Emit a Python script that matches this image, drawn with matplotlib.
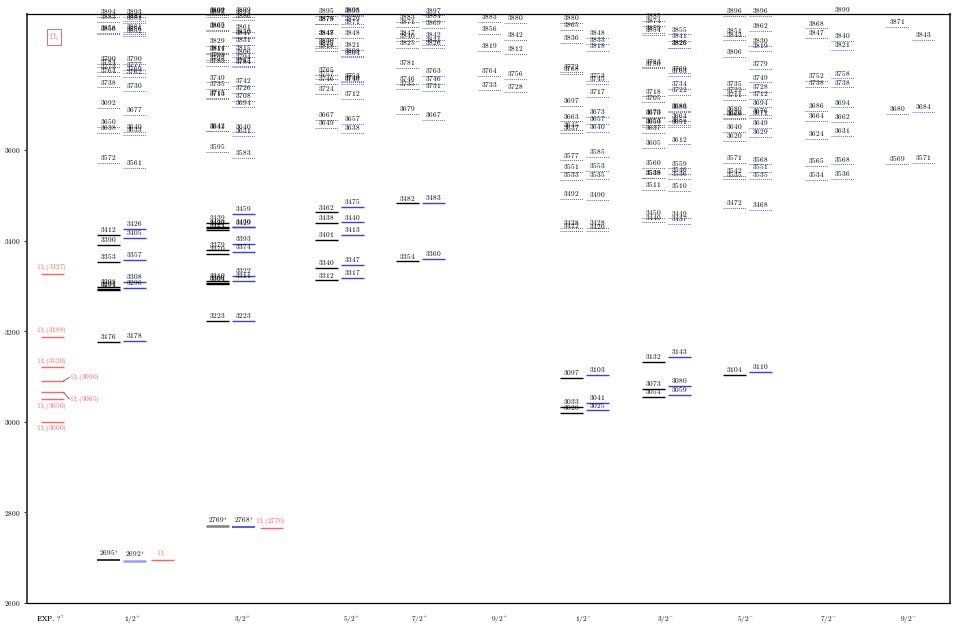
import matplotlib
matplotlib.use('Agg')
import matplotlib.pyplot as plt

plt.rcParams['mathtext.fontset'] = 'cm'
plt.rcParams['font.family'] = 'serif'
plt.rcParams['font.serif'] = ['DejaVu Serif']

# ---------------- data ----------------
columns = ['1/2+', '3/2+', '5/2+', '7/2+', '9/2+', '1/2-', '3/2-', '5/2-', '7/2-', '9/2-']

A_12p = [3894, 3883, 3858, 3856, 3790, 3784, 3773, 3764, 3738, 3692, 3650, 3638, 3572,
         3412, 3390, 3353, 3298, 3294, 3291, 3176]
B_12p = [3893, 3884, 3881, 3861, 3856, 3852, 3790, 3777, 3769, 3762, 3730, 3677, 3640, 3633,
         3561, 3426, 3405, 3357, 3308, 3296, 3178]
A_32p = [3899, 3897, 3893, 3865, 3862, 3829, 3814, 3811, 3798, 3793, 3785, 3749, 3735, 3715,
         3713, 3642, 3641, 3595, 3439, 3429, 3427, 3424, 3379, 3370, 3310, 3306, 3304, 3223]
B_32p = [3899, 3894, 3886, 3861, 3850, 3847, 3831, 3815, 3806, 3794, 3785, 3784, 3742, 3726,
         3708, 3694, 3640, 3631, 3583, 3459, 3430, 3429, 3393, 3374, 3322, 3311, 3223]
A_52p = [3895, 3879, 3878, 3848, 3847, 3830, 3825, 3818, 3765, 3757, 3746, 3724, 3667, 3649,
         3462, 3438, 3401, 3340, 3312]
B_52p = [3898, 3895, 3879, 3871, 3848, 3821, 3808, 3804, 3753, 3749, 3746, 3712, 3657, 3638,
         3475, 3440, 3413, 3347, 3317]
A_72p = [3883, 3871, 3847, 3840, 3825, 3781, 3746, 3735, 3679, 3482, 3354]
B_72p = [3897, 3884, 3869, 3842, 3831, 3826, 3763, 3746, 3731, 3667, 3483, 3360]
A_92p = [3883, 3856, 3819, 3764, 3733]
B_92p = [3880, 3842, 3812, 3756, 3728]
A_12m = [3880, 3865, 3836, 3772, 3768, 3697, 3663, 3645, 3637, 3577, 3551, 3533, 3492, 3428,
         3422, 3097, 3033, 3020]
B_12m = [3848, 3833, 3818, 3753, 3745, 3717, 3673, 3657, 3640, 3585, 3553, 3535, 3490, 3428,
         3420, 3103, 3041, 3025]
A_32m = [3885, 3874, 3859, 3854, 3783, 3780, 3718, 3705, 3673, 3670, 3654, 3650, 3637, 3605,
         3560, 3539, 3538, 3511, 3450, 3440, 3132, 3073, 3054]
B_32m = [3855, 3841, 3826, 3825, 3769, 3763, 3734, 3722, 3686, 3683, 3664, 3655, 3651, 3612,
         3559, 3546, 3536, 3510, 3449, 3437, 3143, 3080, 3059]
A_52m = [3896, 3851, 3843, 3806, 3735, 3722, 3711, 3680, 3670, 3668, 3640, 3620, 3571, 3542,
         3535, 3472, 3104]
B_52m = [3896, 3862, 3830, 3819, 3779, 3749, 3728, 3712, 3694, 3676, 3671, 3649, 3629, 3568,
         3551, 3535, 3468, 3110]
A_72m = [3868, 3847, 3752, 3738, 3686, 3664, 3624, 3565, 3534]
B_72m = [3899, 3840, 3821, 3758, 3738, 3694, 3662, 3631, 3568, 3536]
A_92m = [3871, 3680, 3569]
B_92m = [3843, 3684, 3571]

model_A = [A_12p, A_32p, A_52p, A_72p, A_92p, A_12m, A_32m, A_52m, A_72m, A_92m]
model_B = [B_12p, B_32p, B_52p, B_72p, B_92p, B_12m, B_32m, B_52m, B_72m, B_92m]

# daggered ground states (1/2+, 3/2+)
A_ground = [2695, 2769]
B_ground = [2692, 2768]

# experiment
exp_ground_labels = [r'$\Omega_c$', r'$\Omega_c(2770)$']
exp_ground_values = [2695, 2766]
exp_values = [3000, 3050, 3065, 3090, 3120, 3188, 3327]
exp_labels = [r'$\Omega_c(%d)$' % v for v in exp_values]

tick_labels = [r'EXP. $?^{?}$', r'$1/2^{+}$', r'$3/2^{+}$', r'$5/2^{+}$', r'$7/2^{+}$',
               r'$9/2^{+}$', r'$1/2^{-}$', r'$3/2^{-}$', r'$5/2^{-}$', r'$7/2^{-}$', r'$9/2^{-}$']

# ---------------- layout ----------------
col_start = [97, 206, 315, 396, 478, 560, 642, 723, 805, 886]
tick_x = [50, 133, 243, 352, 420, 500, 583, 665, 745, 828, 908]
W = 22.5
OFF_B = 26
OFF_R = 54
cut_pos, cut_neg = 3520, 3300

c_black_dot = '#6a6a6a'
c_blue = '#3b3bf0'
c_blue_dot = '#6464ff'
c_red = '#ff6262'
FS = 5.3

fig = plt.figure(figsize=(9.58, 6.29), dpi=100)
ax = fig.add_axes([27/958, 26/629, 923/958, 589/629])
ax.set_xlim(27, 950)
ax.set_ylim(2600, 3900)


def level(x0, v, color, solid, text=None, tcolor='black', lw=None, below=False):
    if solid:
        ax.hlines(v, x0, x0 + W, colors=color, linewidth=lw or 1.0)
    else:
        ax.hlines(v, x0, x0 + W, colors=color, linewidth=lw or 0.7, linestyles=(0, (1, 1)))
    if text is None:
        text = r'$%d$' % v
    ax.annotate(text, xy=(x0 + W / 2, v), xytext=(0, -1.2 if below else 0.6),
                textcoords='offset points', ha='center', va='top' if below else 'bottom',
                fontsize=FS, color=tcolor, annotation_clip=False)


for i, (name, As, Bs) in enumerate(zip(columns, model_A, model_B)):
    x0 = col_start[i]
    cut = cut_pos if name.endswith('+') else cut_neg
    for v in As:
        solid = v < cut
        level(x0, v, 'black' if solid else c_black_dot, solid)
    for v in Bs:
        solid = v < cut
        level(x0 + OFF_B, v, c_blue if solid else c_blue_dot, solid)

ground_colors_A = ['#111111', '#808080']
ground_colors_B = ['#9a9aff', '#3b3bf0']
for i in range(2):
    x0 = col_start[i]
    level(x0, A_ground[i], ground_colors_A[i], True, text=r'$%d^{\dagger}$' % A_ground[i],
          lw=1.2 if i == 0 else 1.8)
    level(x0 + OFF_B, B_ground[i], ground_colors_B[i], True,
          text=r'$%d^{\dagger}$' % B_ground[i], lw=1.8 if i == 0 else 1.2)
    level(x0 + OFF_R, exp_ground_values[i], c_red, True, text=exp_ground_labels[i], tcolor=c_red)

# experimental column
xe = 41
for v, lab in zip(exp_values, exp_labels):
    if v in (3090, 3065):
        ax.hlines(v, xe, xe + W, colors=c_red, linewidth=1.0)
        ty = v + 8 if v == 3090 else v - 15
        ax.plot([xe + W, xe + W + 6], [v, ty], color='#555555', linewidth=0.6)
        ax.text(xe + W + 7, ty, lab, fontsize=FS, color=c_red, ha='left', va='center')
    else:
        level(xe, v, c_red, True, text=lab, tcolor=c_red, below=v in (3000, 3050))

ax.text(54, 3849, r'$\Omega_c$', fontsize=FS + 0.5, color=c_red, ha='center', va='center',
        bbox=dict(boxstyle='square,pad=0.25', fc='none', ec=c_red, lw=0.7))

ax.set_yticks([2600, 2800, 3000, 3200, 3400, 3600])
ax.set_yticklabels([r'$%d$' % t for t in [2600, 2800, 3000, 3200, 3400, 3600]], fontsize=FS)
ax.tick_params(axis='y', length=2.5, width=0.6, pad=2)
ax.set_xticks(tick_x)
ax.set_xticklabels(tick_labels, fontsize=FS)
ax.tick_params(axis='x', length=0, pad=8)
for k, s in ax.spines.items():
    if k in ('left', 'right'):
        s.set_linewidth(1.4)
        s.set_color('#444444')
    else:
        s.set_linewidth(0.9)

fig.savefig('out.png', dpi=100)
